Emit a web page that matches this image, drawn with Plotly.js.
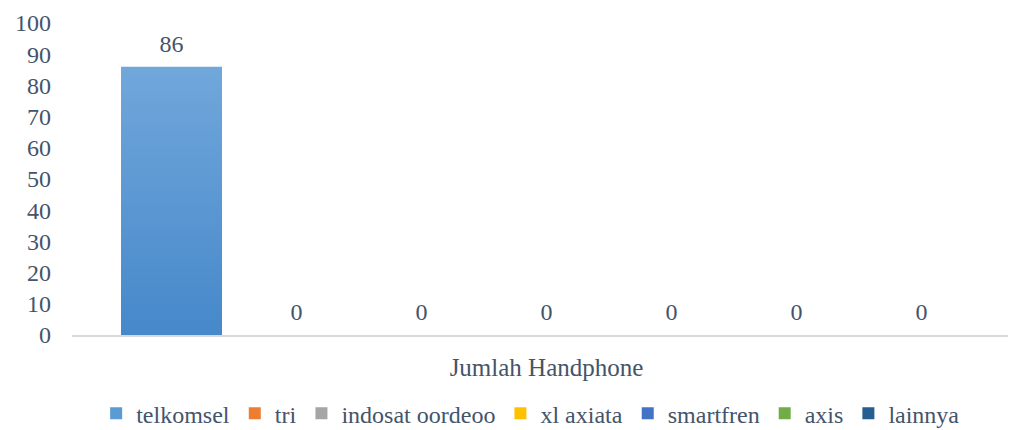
<!DOCTYPE html>
<html><head><meta charset="utf-8">
<script src="https://cdn.plot.ly/plotly-3.0.1.min.js"></script>
<style>html,body{margin:0;padding:0;background:#fff}#chart{width:1009px;height:430px}</style>
</head><body><div id="chart"></div>
<script>
const categories = ["Jumlah Handphone"];
const seriesNames = ["telkomsel", "tri", "indosat oordeoo", "xl axiata", "smartfren", "axis", "lainnya"];
const seriesValues = [[86], [0], [0], [0], [0], [0], [0]];
const seriesColors = ["#5B9BD5", "#ED7D31", "#A5A5A5", "#FFC000", "#4472C4", "#70AD47", "#255E91"];
const yTicks = [0, 10, 20, 30, 40, 50, 60, 70, 80, 90, 100];

const FONT = "Liberation Serif, serif";
const TXT = "#44546A";

const traces = seriesNames.map((name, i) => ({
  type: "bar",
  name: name,
  x: categories,
  y: seriesValues[i],
  marker: {color: seriesColors[i]},
  text: seriesValues[i].map(String),
  textposition: "outside",
  cliponaxis: false,
  textfont: {family: FONT, size: 24, color: TXT},
  hoverinfo: "none"
}));

const layout = {
  width: 1009, height: 430,
  margin: {l: 72, r: 1, t: 23, b: 95, autoexpand: false},
  paper_bgcolor: "#fff", plot_bgcolor: "#fff",
  font: {family: FONT, size: 24, color: TXT},
  barmode: "group",
  bargap: 0.078,
  bargroupgap: 0.192,
  showlegend: true,
  xaxis: {
    type: "category",
    range: [-0.5, 0.4863],
    showgrid: false,
    showline: true, linecolor: "#D9D9D9", linewidth: 1.5,
    ticks: "",
    tickfont: {family: FONT, size: 25, color: TXT},
    ticklabelstandoff: 9
  },
  yaxis: {
    range: [0, 100],
    tickvals: yTicks,
    ticktext: yTicks.map(String),
    showgrid: false, zeroline: false, showline: false,
    ticks: "",
    tickfont: {family: FONT, size: 24, color: TXT},
    ticklabelstandoff: 20
  },
  legend: {
    orientation: "h",
    x: 0.49, xanchor: "center",
    yref: "container",
    y: 0.038, yanchor: "middle",
    font: {family: FONT, size: 24, color: TXT},
    itemwidth: 30
  }
};

Plotly.newPlot("chart", traces, layout, {displayModeBar: false, staticPlot: true}).then(gd => {
  const svgNS = "http://www.w3.org/2000/svg";
  const svg = gd.querySelector("svg.main-svg");
  // soft vertical gradient like the original Office fill
  const defs = document.createElementNS(svgNS, "defs");
  const grad = document.createElementNS(svgNS, "linearGradient");
  grad.setAttribute("id", "gradTelkomsel");
  grad.setAttribute("x1", "0"); grad.setAttribute("y1", "0");
  grad.setAttribute("x2", "0"); grad.setAttribute("y2", "1");
  [["0%", "#71A7DB"], ["100%", "#4688CA"]].forEach(([o, c]) => {
    const s = document.createElementNS(svgNS, "stop");
    s.setAttribute("offset", o); s.setAttribute("stop-color", c);
    grad.appendChild(s);
  });
  defs.appendChild(grad);
  svg.insertBefore(defs, svg.firstChild);
  const firstTrace = gd.querySelectorAll(".barlayer .trace")[0];
  if (firstTrace) firstTrace.querySelectorAll("path").forEach(p => { p.style.fill = "url(#gradTelkomsel)"; });
  // extra label padding above the bars
  gd.querySelectorAll(".barlayer text.bartext").forEach(t => {
    const g = document.createElementNS(svgNS, "g");
    g.setAttribute("transform", "translate(0,-7)");
    t.parentNode.insertBefore(g, t);
    g.appendChild(t);
  });
});
</script>
</body></html>
